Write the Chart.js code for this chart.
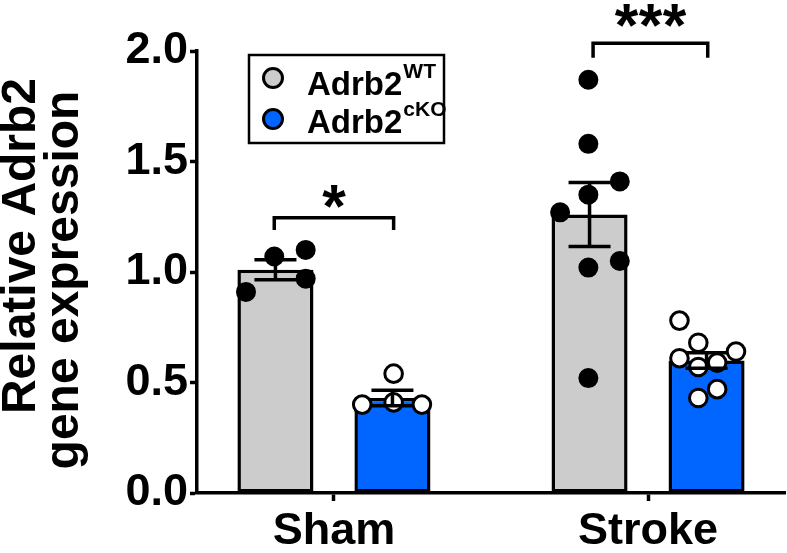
<!DOCTYPE html>
<html>
<head>
<meta charset="utf-8">
<script src="https://cdn.jsdelivr.net/npm/chart.js@4/dist/chart.umd.min.js"></script>
<style>
  html, body { margin: 0; padding: 0; background: #fff; }
</style>
</head>
<body>
<canvas id="chart" width="787" height="553"></canvas>
<script>
// ---- data ----
const groups = ['Sham', 'Stroke'];
const yTicks = [0, 0.5, 1.0, 1.5, 2.0];
const yTitleLines = ['Relative Adrb2', 'gene expression'];
const legendNames = ['Adrb2', 'Adrb2'];
const legendSups = ['WT', 'cKO'];

const meanWT = [1.01, 1.26];
const semWT  = [0.045, 0.145];
const meanKO = [0.43, 0.60];
const semKO  = [0.035, 0.035];

// individual animals: value + horizontal jitter (category units)
const shamWT    = [1.07, 1.10, 0.91, 0.97];
const shamWTdx  = [-0.19, -0.09, -0.28, -0.09];
const shamKO    = [0.54, 0.40, 0.41, 0.40];
const shamKOdx  = [0.19, 0.09, 0.19, 0.28];
const strokeWT   = [1.87, 1.58, 1.41, 1.35, 1.27, 1.02, 1.05, 0.52];
const strokeWTdx = [-0.19, -0.19, -0.09, -0.19, -0.28, -0.19, -0.09, -0.19];
const strokeKO   = [0.78, 0.68, 0.61, 0.64, 0.57, 0.59, 0.47, 0.43];
const strokeKOdx = [0.10, 0.16, 0.10, 0.28, 0.16, 0.22, 0.22, 0.16];

// significance brackets
const sigFrom  = [-0.19, 0.825];
const sigTo    = [0.19, 1.19];
const sigY     = [1.245, 2.035];
const sigDrop  = [0.055, 0.065];
const sigStars = ['*', '***'];
const sigStarY = [1.34, 2.16];

const FONT = "'Liberation Sans', Arial, Helvetica, sans-serif";
const GREY = '#CCCCCC';
const BLUE = '#0066FF';

function pts(vals, dx, g) {
  return vals.map((v, i) => ({ x: g + dx[i], y: v }));
}

const errorBars = {
  id: 'errorBars',
  afterDatasetsDraw(chart) {
    const ctx = chart.ctx, ys = chart.scales.y;
    [[0, meanWT, semWT], [1, meanKO, semKO]].forEach(([di, mean, sem]) => {
      chart.getDatasetMeta(di).data.forEach((bar, i) => {
        const t = ys.getPixelForValue(mean[i] + sem[i]);
        const b = ys.getPixelForValue(mean[i] - sem[i]);
        ctx.save();
        ctx.strokeStyle = '#000';
        ctx.lineWidth = 3.5;
        ctx.beginPath();
        ctx.moveTo(bar.x, t); ctx.lineTo(bar.x, b);
        ctx.moveTo(bar.x - 21, t); ctx.lineTo(bar.x + 21, t);
        ctx.moveTo(bar.x - 21, b); ctx.lineTo(bar.x + 21, b);
        ctx.stroke();
        ctx.restore();
      });
    });
  }
};

const sigPlugin = {
  id: 'sig',
  afterDraw(chart) {
    const ctx = chart.ctx, xs = chart.scales.x, ys = chart.scales.y;
    ctx.save();
    ctx.strokeStyle = '#000';
    ctx.fillStyle = '#000';
    ctx.lineWidth = 3.5;
    for (let k = 0; k < sigStars.length; k++) {
      const x1 = xs.getPixelForValue(sigFrom[k]);
      const x2 = xs.getPixelForValue(sigTo[k]);
      const y = ys.getPixelForValue(sigY[k]);
      const yd = ys.getPixelForValue(sigY[k] - sigDrop[k]);
      ctx.beginPath();
      ctx.moveTo(x1, yd); ctx.lineTo(x1, y); ctx.lineTo(x2, y); ctx.lineTo(x2, yd);
      ctx.stroke();
      // stars, sized to ~23px glyph height
      ctx.font = 'bold 100px ' + FONT;
      let m = ctx.measureText('*');
      const h100 = m.actualBoundingBoxAscent + m.actualBoundingBoxDescent;
      const size = 100 * 23 / h100;
      ctx.font = 'bold ' + size + 'px ' + FONT;
      m = ctx.measureText('*');
      const cy = ys.getPixelForValue(sigStarY[k]);
      const base = cy + (m.actualBoundingBoxAscent - m.actualBoundingBoxDescent) / 2;
      const n = sigStars[k].length;
      const cx = (x1 + x2) / 2;
      ctx.textAlign = 'center';
      ctx.textBaseline = 'alphabetic';
      for (let s = 0; s < n; s++) {
        ctx.fillText('*', cx + (s - (n - 1) / 2) * 24, base);
      }
    }
    ctx.restore();
  }
};

// y title drawn by hand: the two lines are not centred on the same point
const yTitle = {
  id: 'yTitle',
  afterDraw(chart) {
    const ctx = chart.ctx;
    const baseX = [35, 78], midY = [246, 280];
    ctx.save();
    ctx.fillStyle = '#000';
    ctx.font = 'bold 48px ' + FONT;
    ctx.textAlign = 'center';
    ctx.textBaseline = 'alphabetic';
    yTitleLines.forEach((line, i) => {
      ctx.save();
      ctx.translate(baseX[i], midY[i]);
      ctx.rotate(-Math.PI / 2);
      ctx.fillText(line, 0, 0);
      ctx.restore();
    });
    ctx.restore();
  }
};

const legendPlugin = {
  id: 'legendBox',
  afterDraw(chart) {
    const ctx = chart.ctx, a = chart.chartArea;
    const L = a.left + 52, T = a.top + 4, W = 195, H = 88;
    const fills = [GREY, BLUE];
    ctx.save();
    ctx.strokeStyle = '#000';
    ctx.lineWidth = 2.5;
    ctx.strokeRect(L, T, W, H);
    for (let i = 0; i < 2; i++) {
      const cy = T + 23 + i * 41;
      ctx.beginPath();
      ctx.arc(L + 24, cy, 9.5, 0, Math.PI * 2);
      ctx.fillStyle = fills[i];
      ctx.fill();
      ctx.lineWidth = 3;
      ctx.stroke();
      ctx.fillStyle = '#000';
      ctx.textAlign = 'left';
      ctx.textBaseline = 'alphabetic';
      ctx.font = 'bold 33px ' + FONT;
      const base = T + 40 + i * 38;
      ctx.fillText(legendNames[i], L + 58, base);
      const w = ctx.measureText(legendNames[i]).width;
      ctx.font = 'bold 21px ' + FONT;
      ctx.fillText(legendSups[i], L + 58 + w + 1, base - 17);
    }
    ctx.restore();
  }
};

new Chart(document.getElementById('chart'), {
  type: 'bar',
  data: {
    datasets: [
      {
        type: 'bar',
        data: groups.map((g, i) => ({ x: i, y: meanWT[i] })),
        backgroundColor: GREY,
        borderColor: '#000',
        borderWidth: 3.5,
        borderSkipped: false,
        categoryPercentage: 0.745,
        barPercentage: 0.65,
        order: 3
      },
      {
        type: 'bar',
        data: groups.map((g, i) => ({ x: i, y: meanKO[i] })),
        backgroundColor: BLUE,
        borderColor: '#000',
        borderWidth: 3.5,
        borderSkipped: false,
        categoryPercentage: 0.745,
        barPercentage: 0.65,
        order: 3
      },
      {
        type: 'scatter',
        data: pts(shamWT, shamWTdx, 0).concat(pts(strokeWT, strokeWTdx, 1)),
        pointBackgroundColor: '#000',
        pointBorderColor: '#000',
        pointRadius: 9,
        pointBorderWidth: 2,
        order: 1
      },
      {
        type: 'scatter',
        data: pts(shamKO, shamKOdx, 0).concat(pts(strokeKO, strokeKOdx, 1)),
        pointBackgroundColor: '#fff',
        pointBorderColor: '#000',
        pointRadius: 8.8,
        pointBorderWidth: 3,
        order: 1
      }
    ]
  },
  options: {
    responsive: false,
    animation: false,
    events: [],
    layout: { autoPadding: false, padding: { top: 51, right: 2, bottom: 0, left: 0 } },
    plugins: { legend: { display: false }, tooltip: { enabled: false } },
    scales: {
      x: {
        type: 'linear',
        min: -0.436,
        max: 1.436,
        offset: false,
        afterBuildTicks: (s) => { s.ticks = groups.map((g, i) => ({ value: i })); },
        afterFit: (s) => { s.height = 60; s.paddingLeft = 0; s.paddingRight = 0; },
        grid: { display: true, drawOnChartArea: false, drawTicks: true, tickLength: 8, tickWidth: 3.5, tickColor: '#000', offset: false },
        border: { display: true, color: '#000', width: 3.5 },
        ticks: {
          color: '#000',
          padding: 4,
          maxRotation: 0,
          minRotation: 0,
          autoSkip: false,
          font: { family: FONT, size: 45, weight: 'bold' },
          callback: (v, i) => groups[i]
        }
      },
      y: {
        type: 'linear',
        min: 0,
        max: 2,
        afterBuildTicks: (s) => { s.ticks = yTicks.map(v => ({ value: v })); },
        afterFit: (s) => { s.width = 197; },
        grid: { display: true, drawOnChartArea: false, drawTicks: true, tickLength: 7, tickWidth: 3.5, tickColor: '#000' },
        border: { display: true, color: '#000', width: 3.5 },
        ticks: {
          color: '#000',
          padding: 2,
          font: { family: FONT, size: 45, weight: 'bold' },
          callback: (v) => v.toFixed(1)
        }
      }
    }
  },
  plugins: [errorBars, sigPlugin, yTitle, legendPlugin]
});
</script>
</body>
</html>
